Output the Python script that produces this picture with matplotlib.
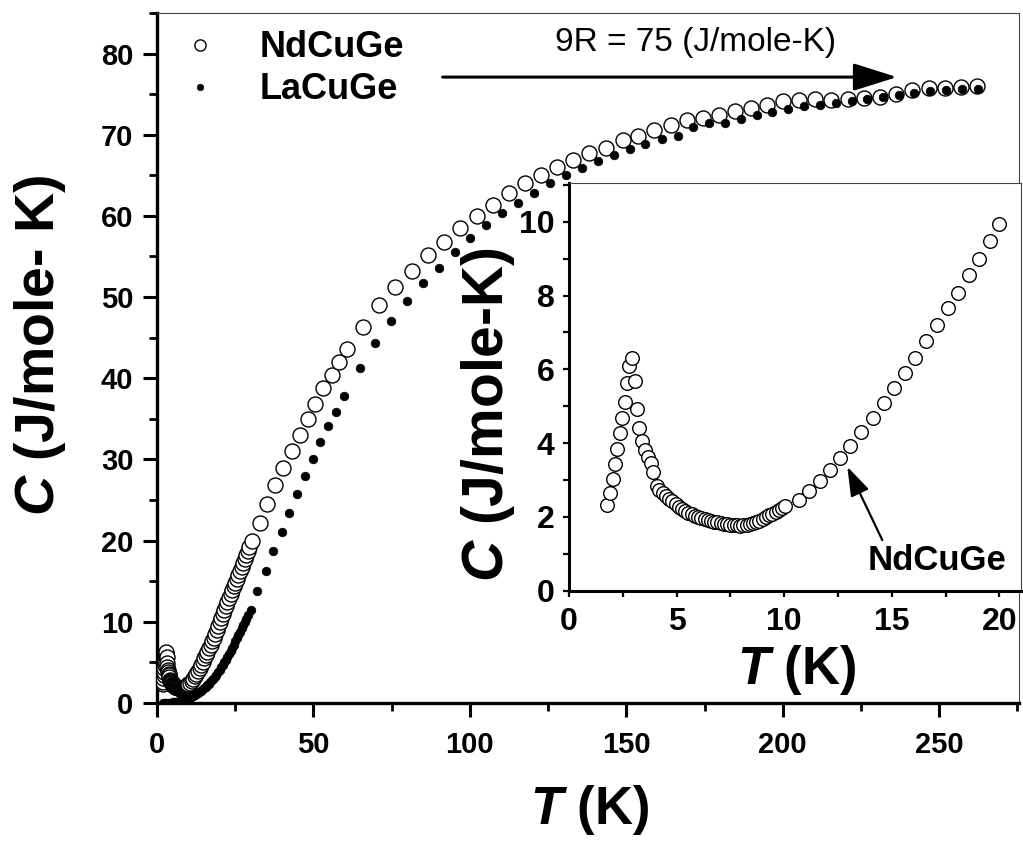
import matplotlib
matplotlib.use("Agg")
import matplotlib.pyplot as plt
from matplotlib.patches import ArrowStyle
from matplotlib.ticker import MultipleLocator

# ── Data ───────────────────────────────────────────────────────────────────────
# NdCuGe, low-temperature scan (K, J/mole-K)
nd_T_low = [1.78, 1.90, 2.03, 2.13, 2.24, 2.37, 2.47, 2.60, 2.71, 2.80, 2.91,
            3.06, 3.14, 3.26, 3.37, 3.53, 3.68, 3.79, 3.92, 4.07,
            4.20, 4.35, 4.50, 4.65, 4.80, 4.95, 5.10, 5.25, 5.40, 5.55,
            5.70, 5.85, 6.00, 6.15, 6.30, 6.45, 6.60, 6.75, 6.90, 7.05,
            7.20, 7.35, 7.50, 7.65, 7.80, 7.95, 8.10, 8.25, 8.40, 8.55,
            8.70, 8.85, 9.00, 9.15, 9.30, 9.45, 9.60, 9.75, 9.90, 10.05,
            10.67, 11.15, 11.65, 12.11, 12.61, 13.07, 13.58, 14.12, 14.62, 15.10,
            15.59, 16.06, 16.60, 17.09, 17.60, 18.07, 18.58, 19.03, 19.54, 20.00]
nd_C_low = [2.32, 2.64, 3.02, 3.43, 3.83, 4.27, 4.67, 5.12, 5.62, 6.09, 6.30,
            5.68, 4.92, 4.40, 4.05, 3.81, 3.63, 3.45, 3.22, 2.84,
            2.74, 2.66, 2.57, 2.49, 2.42, 2.34, 2.27, 2.21, 2.16, 2.11,
            2.07, 2.03, 2.00, 1.97, 1.94, 1.92, 1.89, 1.87, 1.85, 1.83,
            1.82, 1.80, 1.79, 1.78, 1.77, 1.76, 1.77, 1.78, 1.80, 1.83,
            1.86, 1.90, 1.94, 1.99, 2.04, 2.09, 2.14, 2.20, 2.25, 2.30,
            2.46, 2.71, 2.97, 3.27, 3.59, 3.93, 4.29, 4.67, 5.08, 5.49,
            5.89, 6.30, 6.78, 7.20, 7.65, 8.06, 8.56, 8.98, 9.49, 9.94]

# NdCuGe, 20-300 K scan
nd_T_high = [20.5, 21.0, 21.5, 22.0, 22.5, 23.0, 23.5, 24.0, 24.5, 25.0,
             25.5, 26.0, 26.5, 27.0, 27.5, 28.0, 28.5, 29.0, 29.5,
             30.2, 32.9, 35.3, 37.8, 40.3, 43.0, 45.6, 48.1, 50.6, 53.1,
             55.8, 58.2, 60.7, 65.9, 70.9, 76.2, 81.5, 86.6, 91.6, 96.9,
             102.2, 107.3, 112.5, 117.5, 122.8, 127.9, 133.1, 138.2, 143.5, 148.8,
             153.8, 158.9, 164.3, 169.3, 174.4, 179.7, 184.7, 189.8, 194.9, 200.1,
             205.2, 210.3, 215.5, 220.7, 226.0, 231.0, 236.3, 241.4, 246.7, 251.8,
             257.0, 262.2]
nd_C_high = [10.43, 10.92, 11.41, 11.90, 12.39, 12.88, 13.37, 13.86, 14.35, 14.84,
             15.33, 15.82, 16.31, 16.80, 17.29, 17.78, 18.27, 18.76, 19.25,
             19.9, 22.2, 24.5, 26.8, 29.0, 31.0, 33.0, 35.0, 36.8, 38.8,
             40.4, 42.0, 43.6, 46.3, 49.0, 51.2, 53.2, 55.2, 56.8, 58.5,
             60.0, 61.4, 62.8, 64.0, 65.0, 66.0, 66.9, 67.7, 68.4, 69.4,
             69.9, 70.6, 71.2, 71.8, 72.0, 72.4, 72.9, 73.3, 73.7, 74.1,
             74.3, 74.4, 74.3, 74.4, 74.5, 74.7, 75.0, 75.5, 75.7, 75.7,
             75.9, 76.0]

# LaCuGe (non-magnetic reference)
la_T = [2.0, 2.5, 3.0, 3.5, 4.0, 4.5, 5.0, 5.5, 6.0, 6.5,
        7.0, 7.5, 8.0, 8.5, 9.0, 9.5, 10.0, 10.5, 11.0, 11.5,
        12.0, 12.5, 13.0, 13.5, 14.0, 14.5, 15.0, 15.5, 16.0, 16.5,
        17.0, 17.5, 18.0, 18.5, 19.0, 19.5, 20.0, 20.5, 21.0, 21.5,
        22.0, 22.5, 23.0, 23.5, 24.0, 24.5, 25.0, 25.5, 26.0, 26.5,
        27.0, 27.5, 28.0, 28.5, 29.0,
        29.9, 32.1, 34.7, 37.1, 39.8, 42.2, 44.8, 47.2, 49.7, 52.2,
        54.7, 57.3, 59.7, 64.8, 69.8, 74.9, 79.9, 85.0, 90.1, 95.1,
        100.1, 105.2, 110.4, 115.5, 120.4, 125.6, 130.8, 135.7, 140.9, 146.0,
        151.2, 156.1, 161.3, 166.4, 171.2, 176.5, 181.5, 186.6, 191.6, 196.7,
        201.7, 206.8, 211.8, 216.9, 222.0, 227.0, 232.0, 237.2, 242.0, 247.0,
        252.2, 257.3, 262.3]
la_C = [0.01, 0.01, 0.02, 0.03, 0.04, 0.05, 0.07, 0.09, 0.12, 0.15,
        0.19, 0.23, 0.28, 0.34, 0.40, 0.47, 0.55, 0.64, 0.73, 0.83,
        0.94, 1.06, 1.19, 1.33, 1.48, 1.64, 1.80, 1.98, 2.17, 2.37,
        2.57, 2.79, 3.01, 3.25, 3.50, 3.78, 4.10, 4.40, 4.70, 5.00,
        5.35, 5.70, 6.05, 6.40, 6.80, 7.20, 7.60, 8.00, 8.40, 8.80,
        9.20, 9.60, 10.00, 10.40, 10.80,
        11.5, 13.8, 16.3, 18.7, 21.1, 23.4, 25.7, 27.9, 30.0, 32.1,
        34.1, 35.9, 37.8, 41.3, 44.3, 47.0, 49.5, 51.7, 53.6, 55.6,
        57.3, 58.9, 60.3, 61.6, 62.8, 64.0, 65.0, 65.9, 66.8, 67.5,
        68.2, 68.9, 69.5, 69.9, 71.0, 71.4, 71.5, 71.9, 72.4, 72.8,
        73.2, 73.5, 73.7, 73.9, 74.2, 74.4, 74.6, 74.9, 75.1, 75.4,
        75.5, 75.6, 75.6]

nd_T = nd_T_low + nd_T_high
nd_C = nd_C_low + nd_C_high

# ── Style ──────────────────────────────────────────────────────────────────────
plt.rcParams["font.family"] = ["Liberation Sans", "DejaVu Sans"]
plt.rcParams["font.weight"] = "bold"
plt.rcParams["axes.labelweight"] = "bold"
plt.rcParams["mathtext.fontset"] = "custom"
plt.rcParams["mathtext.it"] = "Liberation Sans:italic:bold"
plt.rcParams["mathtext.rm"] = "Liberation Sans:bold"

fig = plt.figure(figsize=(10.23, 8.41), dpi=100)
ax = fig.add_axes([0.1535, 0.1641, 0.8426, 0.8205])

# ── Main panel ─────────────────────────────────────────────────────────────────
nd_line, = ax.plot(nd_T, nd_C, ls="none", marker="o", ms=10.8, mfc="white",
                   mec="black", mew=1.0, label="NdCuGe", zorder=3)
la_line, = ax.plot(la_T, la_C, ls="none", marker="o", ms=6.2, mfc="black",
                   mec="black", mew=0.5, label="LaCuGe", zorder=4)

ax.set_xlim(0, 275.5)
ax.set_ylim(0, 85)
ax.xaxis.set_major_locator(MultipleLocator(50))
ax.xaxis.set_minor_locator(MultipleLocator(25))
ax.yaxis.set_major_locator(MultipleLocator(10))
ax.yaxis.set_minor_locator(MultipleLocator(5))
ax.tick_params(which="major", direction="out", length=10, width=2.2, labelsize=21)
ax.tick_params(which="minor", direction="out", length=6, width=2.0)
ax.tick_params(axis="y", which="major", pad=7)
ax.tick_params(axis="x", which="major", pad=10)
for side in ("left", "bottom"):
    ax.spines[side].set_linewidth(2.4)
for side in ("top", "right"):
    ax.spines[side].set_linewidth(0.8)
    ax.spines[side].set_color("#444444")

ax.set_xlabel("$T$ (K)", fontsize=38, fontweight="bold", va="center")
ax.xaxis.set_label_coords(0.502, -0.155)
ax.set_ylabel("$C$ (J/mole- K)", fontsize=40, fontweight="bold", va="center")
ax.yaxis.set_label_coords(-0.136, 0.519)

leg = ax.legend(handles=[nd_line, la_line], loc="upper left",
                bbox_to_anchor=(0.029, 0.975), frameon=False, fontsize=26,
                markerscale=0.75, handlelength=1.0, handletextpad=1.15,
                labelspacing=0.2, borderpad=0, borderaxespad=0)

# Dulong-Petit limit
ax.annotate("", xy=(236.5, 77.1), xytext=(91.3, 77.1),
            arrowprops=dict(arrowstyle=ArrowStyle("-|>", head_length=2.7, head_width=0.85),
                            mutation_scale=10, lw=2.2, color="black",
                            shrinkA=0, shrinkB=0))
ax.text(172.2, 81.3, "9R = 75 (J/mole-K)", fontsize=24, fontweight="normal",
        ha="center", va="center")

# ── Inset: low-temperature detail ──────────────────────────────────────────────
axin = fig.add_axes([0.5562, 0.2976, 0.4418, 0.4848])
axin.set_facecolor("white")
axin.plot(nd_T_low, nd_C_low, ls="none", marker="o", ms=9.8, mfc="white",
          mec="black", mew=1.0)
axin.set_xlim(0, 21)
axin.set_ylim(0, 11.05)
axin.xaxis.set_major_locator(MultipleLocator(5))
axin.xaxis.set_minor_locator(MultipleLocator(2.5))
axin.yaxis.set_major_locator(MultipleLocator(2))
axin.yaxis.set_minor_locator(MultipleLocator(1))
axin.tick_params(which="both", direction="out", length=4.5, width=1.6, labelsize=23)
axin.tick_params(axis="y", which="major", pad=6)
axin.tick_params(axis="x", which="major", pad=7)
for side in ("left", "bottom"):
    axin.spines[side].set_linewidth(2.2)
for side in ("top", "right"):
    axin.spines[side].set_linewidth(0.8)
    axin.spines[side].set_color("#444444")

axin.set_xlabel("$T$ (K)", fontsize=38, fontweight="bold", va="center")
axin.xaxis.set_label_coords(0.504, -0.1945)
axin.set_ylabel("$C$ (J/mole-K)", fontsize=41, fontweight="bold", va="center")
axin.yaxis.set_label_coords(-0.179, 0.431)

axin.annotate("", xy=(12.93, 3.36), xytext=(14.56, 1.37),
              arrowprops=dict(arrowstyle=ArrowStyle("-|>", head_length=1.8, head_width=0.6),
                              mutation_scale=10, lw=1.6, color="black",
                              shrinkA=0, shrinkB=0))
axin.text(17.08, 0.83, "NdCuGe", fontsize=25, ha="center", va="center")

fig.savefig("out.png", dpi=100)
